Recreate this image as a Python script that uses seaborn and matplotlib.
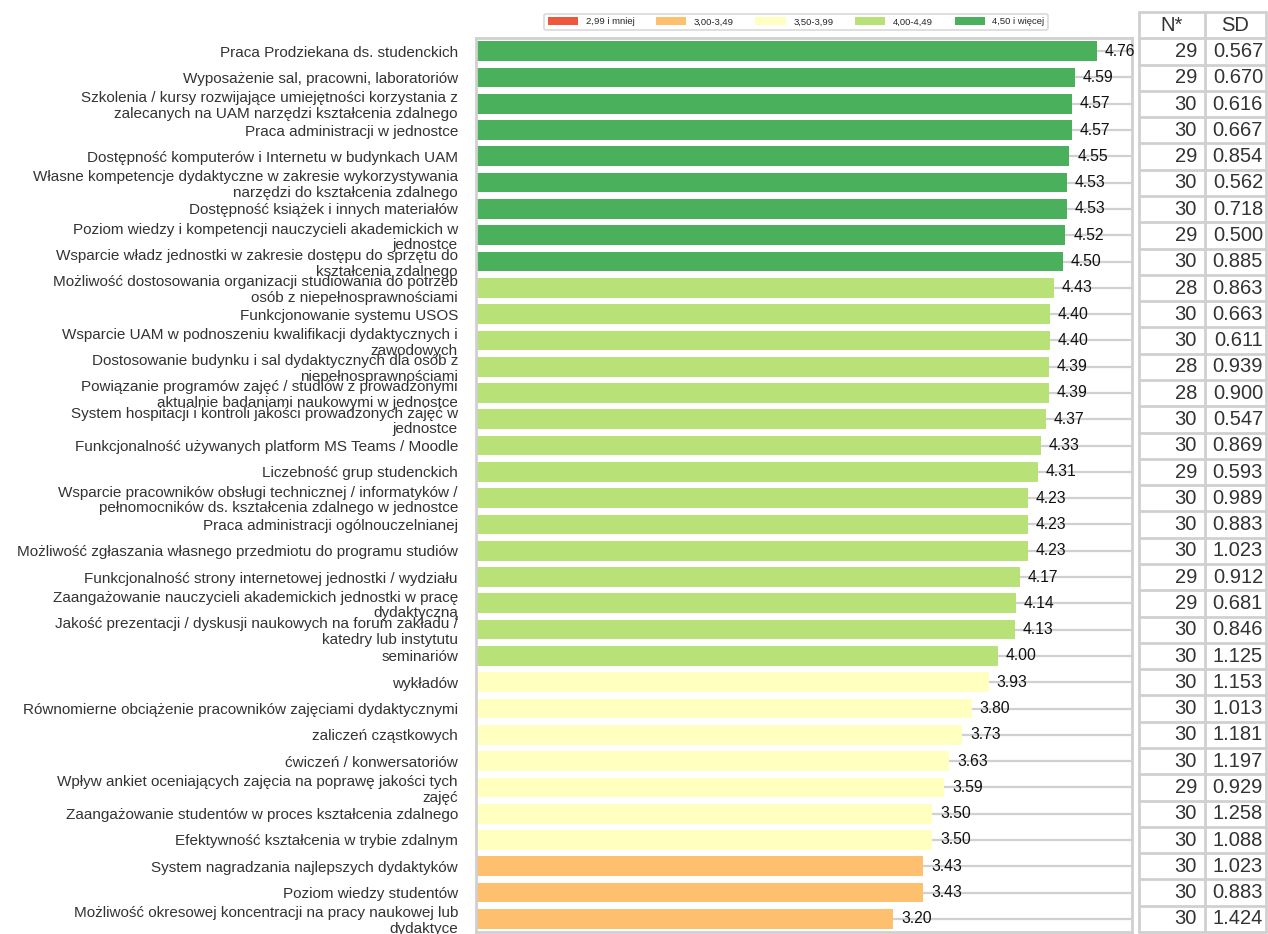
import matplotlib
matplotlib.use("Agg")
import matplotlib.pyplot as plt
from matplotlib.patches import Patch
import seaborn as sns
import pandas as pd

categories = [
    "Praca Prodziekana ds. studenckich",
    "Wyposażenie sal, pracowni, laboratoriów",
    "Szkolenia / kursy rozwijające umiejętności korzystania z\nzalecanych na UAM narzędzi kształcenia zdalnego",
    "Praca administracji w jednostce",
    "Dostępność komputerów i Internetu w budynkach UAM",
    "Własne kompetencje dydaktyczne w zakresie wykorzystywania\nnarzędzi do kształcenia zdalnego",
    "Dostępność książek i innych materiałów",
    "Poziom wiedzy i kompetencji nauczycieli akademickich w\njednostce",
    "Wsparcie władz jednostki w zakresie dostępu do sprzętu do\nkształcenia zdalnego",
    "Możliwość dostosowania organizacji studiowania do potrzeb\nosób z niepełnosprawnościami",
    "Funkcjonowanie systemu USOS",
    "Wsparcie UAM w podnoszeniu kwalifikacji dydaktycznych i\nzawodowych",
    "Dostosowanie budynku i sal dydaktycznych dla osób z\nniepełnosprawnościami",
    "Powiązanie programów zajęć / studiów z prowadzonymi\naktualnie badaniami naukowymi w jednostce",
    "System hospitacji i kontroli jakości prowadzonych zajęć w\njednostce",
    "Funkcjonalność używanych platform MS Teams / Moodle",
    "Liczebność grup studenckich",
    "Wsparcie pracowników obsługi technicznej / informatyków /\npełnomocników ds. kształcenia zdalnego w jednostce",
    "Praca administracji ogólnouczelnianej",
    "Możliwość zgłaszania własnego przedmiotu do programu studiów",
    "Funkcjonalność strony internetowej jednostki / wydziału",
    "Zaangażowanie nauczycieli akademickich jednostki w pracę\ndydaktyczną",
    "Jakość prezentacji / dyskusji naukowych na forum zakładu /\nkatedry lub instytutu",
    "seminariów",
    "wykładów",
    "Równomierne obciążenie pracowników zajęciami dydaktycznymi",
    "zaliczeń cząstkowych",
    "ćwiczeń / konwersatoriów",
    "Wpływ ankiet oceniających zajęcia na poprawę jakości tych\nzajęć",
    "Zaangażowanie studentów w proces kształcenia zdalnego",
    "Efektywność kształcenia w trybie zdalnym",
    "System nagradzania najlepszych dydaktyków",
    "Poziom wiedzy studentów",
    "Możliwość okresowej koncentracji na pracy naukowej lub\ndydaktyce",
]

means = [4.76, 4.59, 4.57, 4.57, 4.55, 4.53, 4.53, 4.52, 4.50, 4.43,
         4.40, 4.40, 4.39, 4.39, 4.37, 4.33, 4.31, 4.23, 4.23, 4.23,
         4.17, 4.14, 4.13, 4.00, 3.93, 3.80, 3.73, 3.63, 3.59, 3.50,
         3.50, 3.43, 3.43, 3.20]

n_resp = [29, 29, 30, 30, 29, 30, 30, 29, 30, 28,
          30, 30, 28, 28, 30, 30, 29, 30, 30, 30,
          29, 29, 30, 30, 30, 30, 30, 30, 29, 30,
          30, 30, 30, 30]

sd = [0.567, 0.670, 0.616, 0.667, 0.854, 0.562, 0.718, 0.500, 0.885, 0.863,
      0.663, 0.611, 0.939, 0.900, 0.547, 0.869, 0.593, 0.989, 0.883, 1.023,
      0.912, 0.681, 0.846, 1.125, 1.153, 1.013, 1.181, 1.197, 0.929, 1.258,
      1.088, 1.023, 0.883, 1.424]

bands = ["2,99 i mniej", "3,00-3,49", "3,50-3,99", "4,00-4,49", "4,50 i więcej"]
band_colors = ["#ee573b", "#fec06f", "#ffffc0", "#b8e178", "#4bb05c"]


def band_of(v):
    if v < 3.0:
        return bands[0]
    if v < 3.5:
        return bands[1]
    if v < 4.0:
        return bands[2]
    if v < 4.5:
        return bands[3]
    return bands[4]


df = pd.DataFrame({"kategoria": categories, "srednia": means,
                   "przedzial": [band_of(v) for v in means]})

sns.set_theme(style="whitegrid")
plt.rcParams["font.family"] = ["Liberation Sans", "DejaVu Sans"]

W, H = 1268, 934
fig = plt.figure(figsize=(W / 100, H / 100), dpi=100)
ax = fig.add_axes([476 / W, 2 / H, (1132 - 476) / W, (932 - 38) / H])

sns.barplot(data=df, y="kategoria", x="srednia", hue="przedzial",
            hue_order=bands, palette=dict(zip(bands, band_colors)),
            dodge=False, width=0.75, orient="h", legend=False, ax=ax,
            saturation=1, edgecolor="none")

ax.set_xlim(0, 5.03)
ax.set_ylim(len(categories) - 0.5, -0.5)
ax.set_xlabel("")
ax.set_ylabel("")
ax.set_xticks([])
ax.grid(axis="x", visible=False)
ax.grid(axis="y", color="#d0d0d0", linewidth=1.6)
ax.set_axisbelow(True)
for sp in ax.spines.values():
    sp.set_color("#d0d0d0")
    sp.set_linewidth(2)
ax.tick_params(axis="y", length=0, pad=13, labelsize=11, labelcolor="#333333")
for lbl in ax.get_yticklabels():
    lbl.set_linespacing(1.15)

for i, v in enumerate(means):
    ax.text(v + 0.06, i, f"{v:.2f}", va="center", ha="left",
            fontsize=11.3, color="#111111")

handles = [Patch(facecolor=c, edgecolor="none", label=b)
           for b, c in zip(bands, band_colors)]
leg = ax.legend(handles=handles, loc="center", ncol=5,
                bbox_to_anchor=(0.488, 1.018), fontsize=6.8,
                frameon=True, handlelength=3.2, handleheight=0.9,
                columnspacing=2.3, borderpad=0.35, handletextpad=0.8)
leg.get_frame().set_edgecolor("#d0d0d0")
leg.get_frame().set_linewidth(1.2)

# side table with respondent count and standard deviation (x in pixel-width units)
axt = fig.add_axes([1139 / W, 2 / H, (1266 - 1139) / W, (932 - 12) / H])
n = len(categories)
x_left, x_mid, x_right = 0, 66, 127
axt.set_xlim(x_left, x_right)
axt.set_ylim(n - 0.5, -1.5)
axt.axis("off")
line_kw = dict(color="#d0d0d0", linewidth=2, clip_on=False)
for k in range(n + 2):
    axt.plot([x_left, x_right], [k - 1.5, k - 1.5], **line_kw)
for xv in (x_left, x_mid, x_right):
    axt.plot([xv, xv], [-1.5, n - 0.5], **line_kw)
txt_kw = dict(va="center", fontsize=14.5, color="#333333")
axt.text((x_left + x_mid) / 2, -1, "N*", ha="center", **txt_kw)
axt.text((x_mid + x_right) / 2, -1, "SD", ha="center", **txt_kw)
for i in range(n):
    axt.text(x_mid - 8, i, f"{n_resp[i]}", ha="right", **txt_kw)
    axt.text(x_right - 3, i, f"{sd[i]:.3f}", ha="right", **txt_kw)

fig.savefig("out.png", dpi=100)
